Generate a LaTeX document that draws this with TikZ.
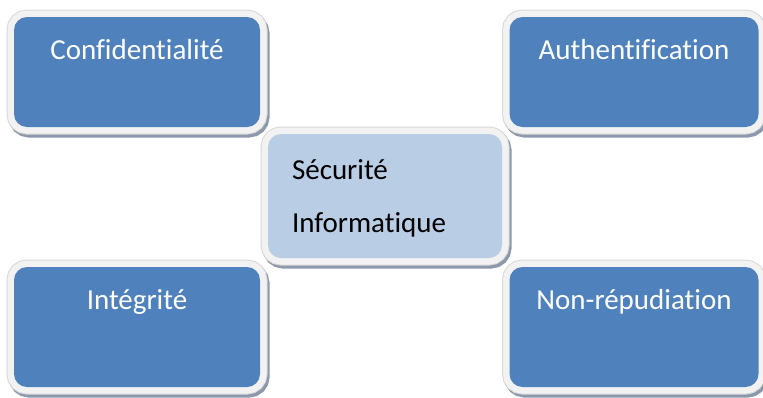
\documentclass[tikz,border=0pt]{standalone}
\usepackage{fontspec}
\setmainfont{Carlito}[Ligatures=NoCommon]
\usetikzlibrary{shadows}

\definecolor{boxblue}{RGB}{79,129,189}
\definecolor{corelight}{RGB}{185,205,229}
\definecolor{framegray}{RGB}{242,242,242}
\definecolor{edgegray}{RGB}{216,216,216}
\definecolor{shadowgray}{RGB}{140,152,172}

\begin{document}
\begin{tikzpicture}[
  x=1pt, y=-1pt,
  framed/.style={
    rounded corners=13pt,
    inner sep=0pt,
    general shadow={shadow xshift=2pt, shadow yshift=-3pt,
      draw=shadowgray, line width=15pt},
    preaction={draw=edgegray, line width=15pt},
    preaction={draw=framegray, line width=13pt}
  },
  topic/.style={
    framed,
    fill=boxblue,
    text=white,
    minimum width=246pt,
    font=\fontsize{29}{35}\selectfont,
    text height=42pt
  },
  short/.style={
    topic,
    minimum height=110pt,
    text depth=68pt
  },
  tall/.style={
    topic,
    minimum height=120pt,
    text depth=78pt
  },
  core/.style={
    framed,
    fill=corelight,
    text=black,
    minimum width=234pt,
    minimum height=124pt,
    text width=186pt,
    align=left,
    font=\fontsize{29}{53}\selectfont,
    text height=45pt,
    text depth=79pt
  }
]
\useasboundingbox (0,0) rectangle (763,397);

% Les quatre piliers
\node[short] (confid) at (137,72) {Confidentialité};
\node[short,minimum width=249pt] (authent) at (634,72) {Authentification};
\node[tall] (integ) at (137,327) {Intégrité};
\node[tall,minimum width=249pt] (nonrep) at (634,327) {Non-répudiation};

% Au centre
\node[core] (secu) at (385,196) {Sécurité\\Informatique};

\end{tikzpicture}
\end{document}
